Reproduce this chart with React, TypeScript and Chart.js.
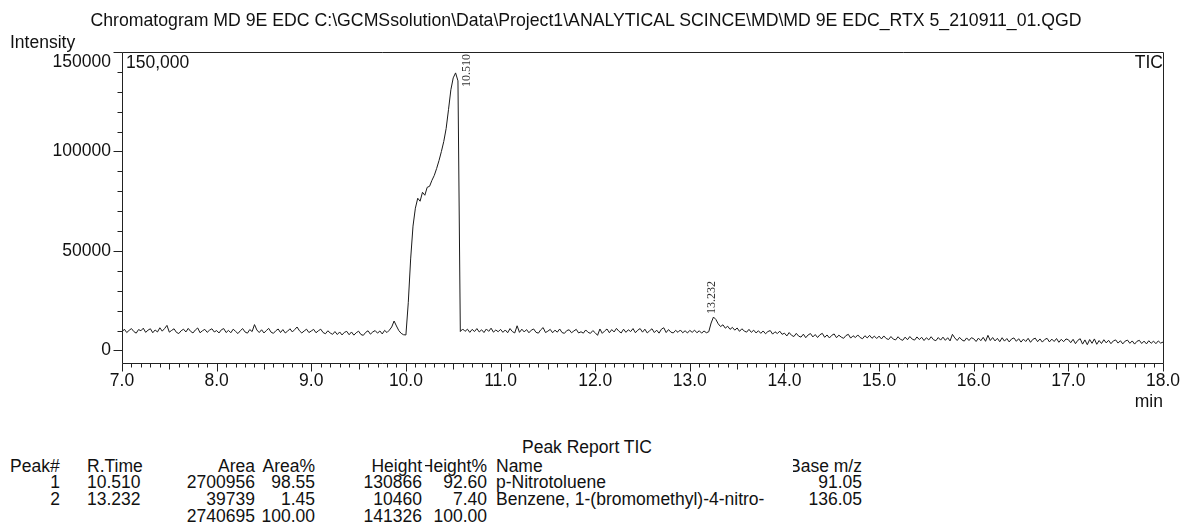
import React, { useEffect, useRef } from "react";
import { Chart, registerables } from "chart.js";

Chart.register(...registerables);

// ---------- chart data ----------
const chartTitle =
  "Chromatogram MD 9E EDC C:\\GCMSsolution\\Data\\Project1\\ANALYTICAL SCINCE\\MD\\MD 9E EDC_RTX 5_210911_01.QGD";

const startTime = 7.0; // min
const samplingStep = 0.025; // min

// TIC intensity, one row per minute (40 samples each)
const intensity = [
  // 7
  9300, 10700, 9000, 10100, 11000, 9500, 8700, 10500, 9900, 11200, 9100, 10200, 10900, 8900, 10300, 9300, 11400, 9700, 11000, 12600,
  9200, 10100, 10900, 9100, 8500, 9900, 10700, 9300, 11100, 9600, 8800, 10300, 11300, 8900, 9900, 10600, 9100, 10200, 10900, 9300,
  // 8
  10000, 8800, 10400, 11000, 9000, 10100, 8900, 10700, 9600, 8500, 9900, 11000, 9300, 8700, 10500, 9500, 13000, 10300, 9000, 10400,
  8800, 10000, 11100, 9200, 8600, 9900, 10800, 9000, 10500, 8800, 9700, 10900, 9300, 10500, 11800, 9900, 8800, 9800, 10700, 9000,
  // 9
  9800, 10600, 8900, 9900, 10700, 9000, 8400, 9900, 8800, 8100, 9500, 8000, 9300, 7800, 9100, 9600, 7900, 9300, 7700, 8900,
  9700, 8000, 7600, 9100, 9900, 8200, 9300, 10000, 8700, 9800, 8300, 10100, 9000, 10200, 11800, 14800, 12300, 10000, 8600, 7900,
  // 10
  7800, 24000, 46000, 62500, 71500, 76500, 75000, 79500, 78000, 82000, 82500, 85500, 88000, 91500, 95500, 100000, 105000, 111500, 121000, 131000,
  137000, 139500, 135500, 9500, 10800, 9600, 10700, 9100, 10600, 9500, 11000, 9300, 10400, 9000, 10800, 9600, 11200, 9200, 10300, 9400,
  // 11
  10600, 9100, 10300, 8900, 11000, 9500, 8800, 12400, 9100, 10700, 9300, 10500, 8900, 10200, 10800, 9100, 8700, 10400, 11500, 9000,
  9700, 10600, 8900, 10200, 9200, 10800, 9000, 8600, 10000, 10400, 8900, 9800, 10600, 8800, 9400, 8700, 10300, 9100, 8600, 10000,
  // 12
  8900, 7600, 10800, 8600, 9800, 10800, 8900, 10500, 9300, 11100, 9700, 8800, 10700, 9100, 10400, 9500, 11000, 8900, 10200, 11000,
  9200, 10700, 8800, 9900, 10900, 9000, 10200, 8700, 10700, 11400, 9000, 10500, 9200, 8800, 10100, 9100, 10300, 8900, 9900, 8800,
  // 13
  10100, 9100, 10200, 8900, 9900, 8700, 9800, 8900, 9400, 13800, 16800, 15600, 13400, 12000, 12900, 11200, 12200, 10600, 11600, 10200,
  11300, 9600, 10900, 9800, 9200, 10600, 9100, 10200, 8800, 9900, 8600, 9800, 8400, 9500, 10000, 8200, 9400, 8500, 9700, 8100,
  // 14
  8700, 7300, 9000, 7600, 7000, 8600, 7200, 6700, 8200, 6400, 7800, 8500, 6800, 8000, 6500, 7900, 8600, 6600, 7800, 6300,
  7600, 8300, 6400, 7700, 6700, 6100, 7500, 8100, 6200, 7400, 6500, 7800, 6500, 5900, 7400, 6300, 7600, 6100, 7200, 6000,
  // 15
  7200, 5800, 7300, 6000, 5500, 7000, 5700, 5300, 6900, 5600, 5100, 6700, 5400, 7000, 5700, 5200, 6800, 5500, 6600, 5000,
  6400, 5300, 6900, 5400, 4900, 6500, 5200, 6700, 5100, 6400, 4800, 8100, 6300, 5000, 6600, 5300, 4700, 6300, 5000, 6400,
  // 16
  5900, 4500, 6200, 4900, 6600, 4600, 7600, 5000, 6500, 4800, 6100, 4400, 6400, 4700, 6000, 4300, 5800, 6300, 4600, 5900,
  4200, 5700, 4500, 6100, 4100, 5600, 6200, 4400, 5800, 4200, 5500, 6100, 4300, 5700, 4500, 6000, 4100, 5600, 4400, 5800,
  // 17
  5400, 3900, 5600, 3400, 5100, 5900, 3200, 5300, 2900, 5500, 3600, 5800, 3100, 5000, 3500, 5400, 3800, 5100, 3400, 4800,
  5300, 3700, 4900, 3300, 4700, 5200, 3600, 4800, 3200, 4600, 5100, 3500, 4700, 3300, 4900, 3600, 4700, 3400, 4800, 3700,
  // 18
  4200,
];

const xMin = 7.0;
const xMax = 18.0;
const yMin = -6300;
const yMax = 150000;

const xTickValues = [7, 8, 9, 10, 11, 12, 13, 14, 15, 16, 17, 18];
const xTickLabels = ["7.0", "8.0", "9.0", "10.0", "11.0", "12.0", "13.0", "14.0", "15.0", "16.0", "17.0", "18.0"];
const yTickValues = [0, 50000, 100000, 150000];
const yTickLabels = ["0", "50000", "100000", "150000"];

const peakTimes = [10.51, 13.232];
const peakApex = [139500, 16800];
const peakLabels = ["10.510", "13.232"];

// ---------- peak report table ----------
const peakNumbers = ["1", "2"];
const retentionTimes = ["10.510", "13.232"];
const peakAreas = ["2700956", "39739"];
const areaPercents = ["98.55", "1.45"];
const peakHeights = ["130866", "10460"];
const heightPercents = ["92.60", "7.40"];
const compoundNames = ["p-Nitrotoluene", "Benzene, 1-(bromomethyl)-4-nitro-"];
const baseMz = ["91.05", "136.05"];
const totalArea = "2740695";
const totalAreaPercent = "100.00";
const totalHeight = "141326";
const totalHeightPercent = "100.00";

const SANS = '"Liberation Sans", Arial, Helvetica, sans-serif';

const axesPlugin = {
  id: "gcAxes",
  afterDraw(chart: any) {
    const { ctx, chartArea: a, scales } = chart;
    const xs = scales.x;
    const ys = scales.y;
    const L = Math.round(a.left) + 0.5;
    const R = Math.round(a.right) + 0.5;
    const T = Math.round(a.top) + 0.5;
    const B = Math.round(a.bottom) + 0.5;
    ctx.save();
    ctx.strokeStyle = "#222";
    ctx.lineWidth = 1;
    ctx.beginPath();
    ctx.moveTo(L, T);
    ctx.lineTo(R, T);
    ctx.lineTo(R, B);
    ctx.lineTo(L, B);
    ctx.closePath();
    ctx.stroke();

    // x ticks (every 0.1 min)
    ctx.beginPath();
    for (let k = 0; k <= Math.round((xMax - xMin) * 10); k++) {
      const v = xMin + k / 10;
      const px = Math.round(xs.getPixelForValue(v)) + 0.5;
      const len = k % 10 === 0 ? 8 : k % 5 === 0 ? 6 : 4;
      ctx.moveTo(px, B);
      ctx.lineTo(px, B + len);
    }
    // y ticks (every 10000)
    for (let v = 0; v <= yMax; v += 10000) {
      const py = Math.round(ys.getPixelForValue(v)) + 0.5;
      const len = v % 50000 === 0 ? 9 : 5;
      ctx.moveTo(L, py);
      ctx.lineTo(L - len, py);
    }
    ctx.stroke();

    ctx.fillStyle = "#111";
    ctx.font = `17.5px ${SANS}`;
    ctx.textBaseline = "middle";
    ctx.textAlign = "center";
    xTickValues.forEach((v, i) => {
      ctx.fillText(xTickLabels[i], xs.getPixelForValue(v), a.bottom + 18);
    });
    ctx.textAlign = "right";
    yTickValues.forEach((v, i) => {
      const py = Math.max(ys.getPixelForValue(v), a.top + 10);
      ctx.fillText(yTickLabels[i], a.left - 11, py);
    });

    // peak labels (rotated)
    ctx.font = `12px "Liberation Serif", "DejaVu Serif", serif`;
    ctx.fillStyle = "#333";
    peakTimes.forEach((t, i) => {
      const px = xs.getPixelForValue(t);
      const py = ys.getPixelForValue(peakApex[i]);
      const w = ctx.measureText(peakLabels[i]).width;
      let cx = px;
      let bottom = py - 3;
      if (bottom - w < a.top + 2) {
        cx = px + 13;
        bottom = a.top + 2 + w;
      }
      ctx.save();
      ctx.translate(cx, bottom);
      ctx.rotate(-Math.PI / 2);
      ctx.textAlign = "left";
      ctx.textBaseline = "middle";
      ctx.fillText(peakLabels[i], 0, 0);
      ctx.restore();
    });
    ctx.restore();
  },
};

function Txt(props: {
  text: string;
  x: number;
  y: number;
  align?: "left" | "right" | "center";
  width?: number;
  clip?: boolean;
  size?: number;
}) {
  const { text, x, y, align = "left", width = 400, clip = false, size = 17.5 } = props;
  const left = align === "left" ? x : align === "right" ? x - width : x - width / 2;
  const base: React.CSSProperties = {
    position: "absolute",
    left,
    top: y - 10,
    width,
    height: 20,
    lineHeight: "20px",
    fontSize: size,
    whiteSpace: "nowrap",
  };
  if (clip) {
    return (
      <div style={{ ...base, overflow: "hidden", display: "flex", justifyContent: "flex-end" }}>
        <span style={{ flex: "none" }}>{text}</span>
      </div>
    );
  }
  return <div style={{ ...base, textAlign: align }}>{text}</div>;
}

export default function App() {
  const canvasRef = useRef<HTMLCanvasElement | null>(null);

  useEffect(() => {
    const canvas = canvasRef.current;
    if (!canvas) return;
    const points = intensity.map((v, i) => ({ x: startTime + i * samplingStep, y: v }));
    const chart = new Chart(canvas, {
      type: "line",
      data: {
        datasets: [
          {
            label: "TIC",
            data: points,
            borderColor: "#1a1a1a",
            borderWidth: 1,
            pointRadius: 0,
            tension: 0,
            fill: false,
          },
        ],
      },
      options: {
        responsive: false,
        animation: false,
        events: [],
        layout: { padding: { left: 122, right: 19, top: 52, bottom: 57 } },
        plugins: { legend: { display: false }, tooltip: { enabled: false }, title: { display: false } },
        scales: {
          x: { type: "linear", display: false, min: xMin, max: xMax },
          y: { type: "linear", display: false, min: yMin, max: yMax },
        },
      },
      plugins: [axesPlugin],
    });
    return () => chart.destroy();
  }, []);

  const rows = [482, 498.5];
  return (
    <div
      style={{
        position: "absolute",
        left: 0,
        top: 0,
        width: 1182,
        height: 527,
        overflow: "hidden",
        background: "#fff",
        color: "#111",
        fontFamily: SANS,
      }}
    >
      <canvas ref={canvasRef} width={1182} height={420} style={{ position: "absolute", left: 0, top: 0 }} />
      <Txt text={chartTitle} x={586} y={20} align="center" width={1170} size={17.7} />
      <Txt text="Intensity" x={10} y={42} />
      <Txt text="150,000" x={126} y={62} />
      <Txt text="TIC" x={1163} y={62} align="right" width={60} />
      <Txt text="min" x={1163} y={401} align="right" width={60} />

      <Txt text="Peak Report TIC" x={587} y={447} align="center" width={300} />
      <Txt text="Peak#" x={10} y={465.5} />
      <Txt text="R.Time" x={87} y={465.5} />
      <Txt text="Area" x={255} y={465.5} align="right" width={80} />
      <Txt text="Area%" x={315} y={465.5} align="right" width={60} />
      <Txt text="Height" x={422} y={465.5} align="right" width={80} />
      <Txt text="Height%" x={487} y={465.5} align="right" width={62} clip />
      <Txt text="Name" x={496} y={465.5} />
      <Txt text="Base m/z" x={862} y={465.5} align="right" width={69} clip />
      {peakNumbers.map((p, i) => (
        <React.Fragment key={p}>
          <Txt text={p} x={60} y={rows[i]} align="right" width={40} />
          <Txt text={retentionTimes[i]} x={87} y={rows[i]} />
          <Txt text={peakAreas[i]} x={255} y={rows[i]} align="right" width={90} />
          <Txt text={areaPercents[i]} x={315} y={rows[i]} align="right" width={60} />
          <Txt text={peakHeights[i]} x={422} y={rows[i]} align="right" width={80} />
          <Txt text={heightPercents[i]} x={487} y={rows[i]} align="right" width={60} />
          <Txt text={compoundNames[i]} x={496} y={rows[i]} />
          <Txt text={baseMz[i]} x={862} y={rows[i]} align="right" width={80} />
        </React.Fragment>
      ))}
      <Txt text={totalArea} x={255} y={516} align="right" width={90} />
      <Txt text={totalAreaPercent} x={315} y={516} align="right" width={60} />
      <Txt text={totalHeight} x={422} y={516} align="right" width={80} />
      <Txt text={totalHeightPercent} x={487} y={516} align="right" width={60} />
    </div>
  );
}
